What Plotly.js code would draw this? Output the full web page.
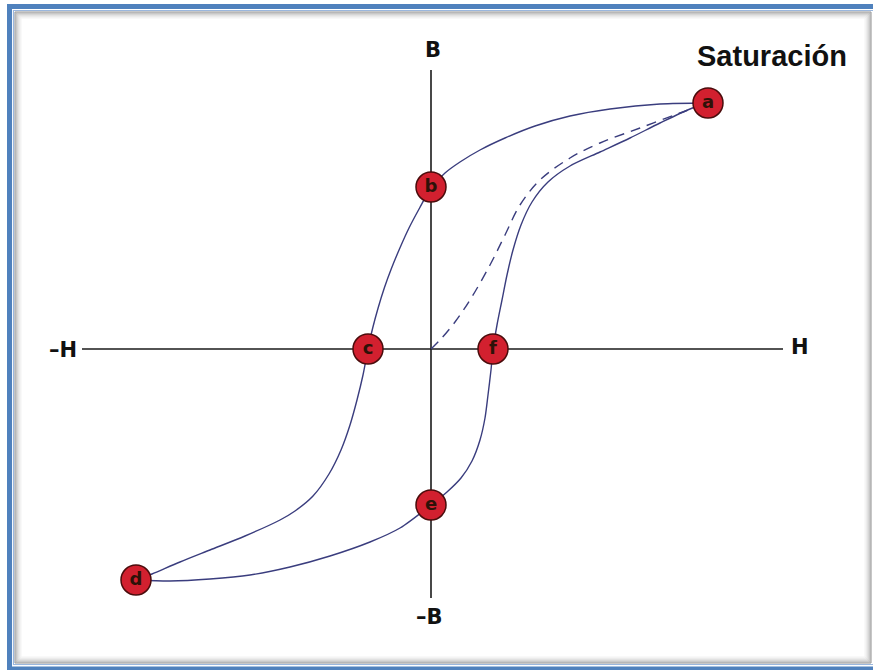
<!DOCTYPE html>
<html>
<head>
<meta charset="utf-8">
<script src="https://cdn.plot.ly/plotly-3.0.1.min.js"></script>
<style>html,body{margin:0;padding:0;background:#fff}#chart{width:873px;height:670px}</style>
</head>
<body>
<div id="chart"></div>
<script>
// Hysteresis loop, units: H and B (arbitrary, origin at axes crossing)
var pointLabels = ['a','b','c','d','e','f'];
var pointH = [2.77, 0.00, -0.63, -2.95, 0.00, 0.62];
var pointB = [2.46, 1.62, 0.00, -2.31, -1.56, 0.00];

// upper branch a -> b -> c -> d
var upperH = [2.77,2.29,1.79,1.39,1.04,0.74,0.49,0.29,0.14,0.00,-0.114,-0.22,-0.311,-0.396,-0.467,-0.529,-0.583,-0.63,-0.68,-0.74,-0.81,-0.90,-1.02,-1.18,-1.36,-1.51,-1.86,-2.21,-2.51,-2.79,-2.94];
var upperB = [2.46,2.45,2.40,2.33,2.23,2.11,1.99,1.87,1.76,1.61,1.41,1.21,1.01,0.805,0.61,0.41,0.21,0.00,-0.26,-0.51,-0.76,-1.01,-1.25,-1.47,-1.62,-1.71,-1.87,-2.01,-2.13,-2.25,-2.31];

// lower branch d -> e -> f -> a
var lowerH = [-2.94,-2.61,-2.21,-1.81,-1.41,-1.01,-0.61,-0.31,0.00,0.16,0.30,0.41,0.49,0.54,0.57,0.60,0.62,0.66,0.71,0.76,0.82,0.90,1.01,1.17,1.39,1.69,1.99,2.29,2.59,2.77];
var lowerB = [-2.31,-2.32,-2.30,-2.26,-2.18,-2.07,-1.93,-1.79,-1.56,-1.43,-1.29,-1.12,-0.91,-0.69,-0.46,-0.21,0.00,0.24,0.49,0.74,0.99,1.24,1.47,1.67,1.83,1.97,2.11,2.26,2.40,2.46];

// initial magnetization curve (dashed) O -> a
var initH = [0.00,0.09,0.24,0.39,0.59,0.74,0.89,1.09,1.39,1.69,2.09,2.49,2.77];
var initB = [0.00,0.09,0.27,0.49,0.84,1.14,1.44,1.69,1.91,2.06,2.21,2.36,2.46];

// axes extents
var hAxisH = [-3.49, 3.52];
var bAxisB = [-2.49, 2.79];

var W = 873, Hh = 670;
function px(x){return x/W;}
function py(y){return 1 - y/Hh;}

var curveColor = '#3a3d7e';
var traces = [
  {x: hAxisH, y: [0,0], mode:'lines', line:{color:'#1a1a1a', width:1.6}, hoverinfo:'skip'},
  {x: [0,0], y: bAxisB, mode:'lines', line:{color:'#1a1a1a', width:1.6}, hoverinfo:'skip'},
  {x: upperH, y: upperB, mode:'lines', line:{color:curveColor, width:1.4, shape:'spline', smoothing:0.8}, hoverinfo:'skip'},
  {x: lowerH, y: lowerB, mode:'lines', line:{color:curveColor, width:1.4, shape:'spline', smoothing:0.8}, hoverinfo:'skip'},
  {x: initH, y: initB, mode:'lines', line:{color:curveColor, width:1.4, dash:'10px,7px', shape:'spline', smoothing:1}, hoverinfo:'skip'},
  {x: pointH, y: pointB, mode:'markers+text', text: pointLabels, textposition:'middle center',
   textfont:{family:'DejaVu Sans', size:18, color:'#2e1208', weight:'bold'},
   marker:{size:30, color:'#d2202f', line:{color:'#4a0c0c', width:1.5}}, hoverinfo:'skip'}
];

var shapes = [];
// inner shadow
var shadowCols = ['#8f8f8f','#a8a8a8','#bdbdbd','#cfcfcf','#dddddd','#e9e9e9','#f3f3f3'];
for (var i=0;i<shadowCols.length;i++){
  var o = 15 + i;
  shapes.push({type:'rect', xref:'paper', yref:'paper', x0:px(o), x1:px(871-i), y0:py(12+i), y1:py(663-i),
    line:{color:shadowCols[i], width:1}, fillcolor:'rgba(0,0,0,0)'});
}
// light blue thin line
shapes.push({type:'rect', xref:'paper', yref:'paper', x0:px(13.5), x1:px(900), y0:py(10.5), y1:py(664.5),
  line:{color:'#9bb7dd', width:1.2}, fillcolor:'rgba(0,0,0,0)'});
// main blue border
shapes.push({type:'rect', xref:'paper', yref:'paper', x0:px(9.5), x1:px(905), y0:py(6.5), y1:py(669),
  line:{color:'#4f81bd', width:5}, fillcolor:'rgba(0,0,0,0)'});

var labFont = {family:'DejaVu Sans', size:21, color:'#111111', weight:'bold'};
var annotations = [
  {x:0, y:bAxisB[1], xref:'x', yref:'y', text:'B', showarrow:false, yanchor:'bottom', yshift:6, xshift:2, font:labFont},
  {x:0, y:bAxisB[0], xref:'x', yref:'y', text:'–B', showarrow:false, yanchor:'top', yshift:-5, xshift:-2, font:labFont},
  {x:hAxisH[0], y:0, xref:'x', yref:'y', text:'–H', showarrow:false, xanchor:'right', xshift:-3, yshift:-1, font:labFont},
  {x:hAxisH[1], y:0, xref:'x', yref:'y', text:'H', showarrow:false, xanchor:'left', xshift:6, yshift:2, font:labFont},
  {x:px(772), y:py(56), xref:'paper', yref:'paper', xanchor:'center', yanchor:'middle', text:'<b>Saturación</b>', showarrow:false,
   font:{family:'Liberation Sans, Arial', size:29, color:'#111111'}}
];

var layout = {
  width: W, height: Hh,
  margin:{l:0,r:0,t:0,b:0},
  paper_bgcolor:'#ffffff', plot_bgcolor:'rgba(0,0,0,0)',
  showlegend:false,
  xaxis:{range:[-4.31, 4.42], visible:false, fixedrange:true},
  yaxis:{range:[-3.21, 3.49], visible:false, fixedrange:true},
  shapes: shapes,
  annotations: annotations
};

Plotly.newPlot('chart', traces, layout, {displayModeBar:false, staticPlot:true});
</script>
</body>
</html>
